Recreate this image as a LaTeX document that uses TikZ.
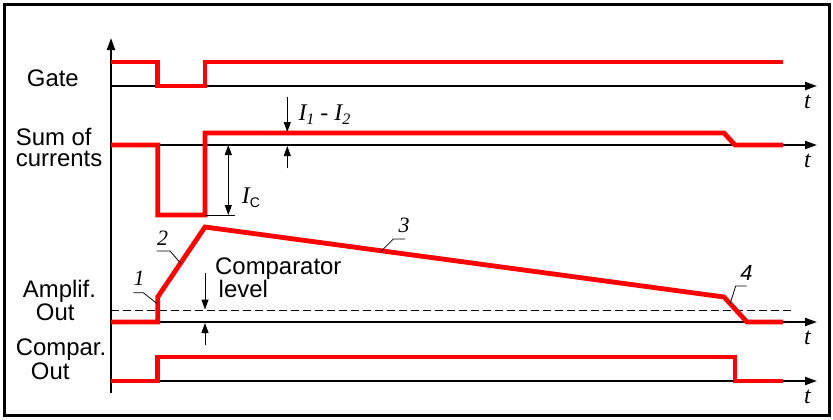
\documentclass[tikz,border=0pt]{standalone}
\usepackage{fontspec}
\setmainfont{Liberation Serif}
\setsansfont{Liberation Sans}
\usepackage{tikz}
\usetikzlibrary{arrows.meta}
\usetikzlibrary{positioning}

\newcommand{\indice}[1]{\raisebox{-4bp}{\fontsize{16}{16}\selectfont #1}}

\begin{document}
\begin{tikzpicture}[x=1bp,y=-1bp,>={Triangle[length=10bp,width=7bp]}]
% définition des paramètres
\tikzstyle cadre=[line width=3.3bp]
\tikzstyle axe=[line width=2bp,-{Triangle[length=12bp,width=8bp]}]
\tikzstyle courbe=[color=red,line width=4.8bp]
\tikzstyle cote=[line width=1bp]
\tikzstyle repere=[line width=0.8bp]
\tikzstyle seuil=[line width=1bp,dash pattern=on 8bp off 4bp]
\tikzstyle nom=[inner sep=0pt,font=\sffamily\fontsize{24}{21.5}\selectfont]
\tikzstyle lettre=[inner sep=0pt,font=\rmfamily\itshape\fontsize{24}{24}\selectfont]
\tikzstyle chiffre=[inner sep=0pt,font=\rmfamily\itshape\fontsize{22}{22}\selectfont]
\newcommand{\xorig}{111}   % abscisse de l'axe vertical
\newcommand{\xfleche}{817} % bout des axes du temps
\newcommand{\xfin}{783}    % fin des courbes
\newcommand{\tun}{157.7}   % ouverture de la porte
\newcommand{\tdeux}{205}   % fermeture de la porte
\newcommand{\ttrois}{724}  % début de la descente
\newcommand{\tquatre}{735} % basculement du comparateur

% le cadre
\useasboundingbox (0,0) rectangle (833,419);
\draw [cadre] (4.5,4.5) rectangle (829.5,415.5);

% les axes
\draw [axe] (\xorig,393) -- (\xorig,38);
\foreach \y in {86,145,322,381}
{
    \draw [axe] (\xorig,\y) -- (\xfleche,\y);
    \node [lettre,anchor=base] (t\y) at (807.5,\y+22.5) {t};
}
% le seuil du comparateur
\draw [seuil] (\xorig,310) -- (795,310);

% les courbes
\draw [courbe] (\xorig,62) -- (\tun,62) -- (\tun,86) -- (\tdeux,86) -- (\tdeux,62) -- (\xfin,62);
\draw [courbe] (\xorig,145) -- (\tun,145) -- (\tun,215) -- (\tdeux,215) -- (\tdeux,133) -- (\ttrois,133) -- (\tquatre,145) -- (\xfin,145);
\draw [courbe] (\xorig,322) -- (\tun,322) -- (\tun,297) -- (\tdeux,227) -- (\ttrois,297) -- (747,322) -- (\xfin,322);
\draw [courbe] (\xorig,381) -- (\tun,381) -- (\tun,357) -- (\tquatre,357) -- (\tquatre,381) -- (\xfin,381);

% les noms des signaux
\node [nom,anchor=base west] (gate) at (26.7,86) {Gate};
\node [nom,anchor=base west,align=left] (somme) at (15.7,166.5) {Sum of\\currents};
\node [nom,anchor=base west] (ampli) at (22.7,297.3) {Amplif.};
\node [nom,anchor=base west] (ampliout) at (35.7,320.7) {Out};
\node [nom,anchor=base west] (compar) at (15.7,355.7) {Compar.};
\node [nom,anchor=base west] (comparout) at (30.7,379.3) {Out};
\node [nom,anchor=base west] (comparateur) at (215,274) {Comparator};
\node [nom,anchor=base west] (niveau) at (218.5,297) {level};

% les cotes
\coordinate (ichaut) at (228.3,145);
\coordinate (icbas) at (228.3,215);
\draw [cote,<->] (ichaut) -- (icbas);
\draw [repere] (\tdeux,215) -- (235,215);
\node [lettre,anchor=base west] (ic) at (241.7,203.3) {I\raisebox{-4bp}{\sffamily\upshape\fontsize{14}{14}\selectfont C}};

\coordinate (dhaut) at (287.3,96.7);
\coordinate (dbas) at (287.3,168.3);
\draw [cote,->] (dhaut) -- (287.3,132);
\draw [cote,->] (dbas) -- (287.3,146);
\node [lettre,anchor=base west] (difference) at (298.3,120) {I\indice{1} - I\indice{2}};

\coordinate (shaut) at (205,273.3);
\coordinate (sbas) at (205,345);
\draw [cote,->] (shaut) -- (205,309.5);
\draw [cote,->] (sbas) -- (205,323);

% les repères 1 à 4
\node [chiffre,anchor=base] (num1) at (139,285) {1};
\node [chiffre,anchor=base] (num2) at (162.5,245) {2};
\node [chiffre,anchor=base] (num3) at (404,232.3) {3};
\node [chiffre,anchor=base,font=\sffamily\itshape\fontsize{22}{22}\selectfont] (num4) at (746.5,280) {4};
\coordinate (r1) at (156.7,303.3);
\coordinate (r2) at (180.7,263.3);
\coordinate (r3) at (380.7,251.7);
\coordinate (r4) at (730,304);
\draw [repere] (133.3,292.7) -- (143.3,292.7) -- (r1);
\draw [repere] (156.7,251) -- (170,251) -- (r2);
\draw [repere] (405,239) -- (393.3,239) -- (r3);
\draw [repere] (746.7,286) -- (735.7,286) -- (r4);
\end{tikzpicture}
\end{document}
